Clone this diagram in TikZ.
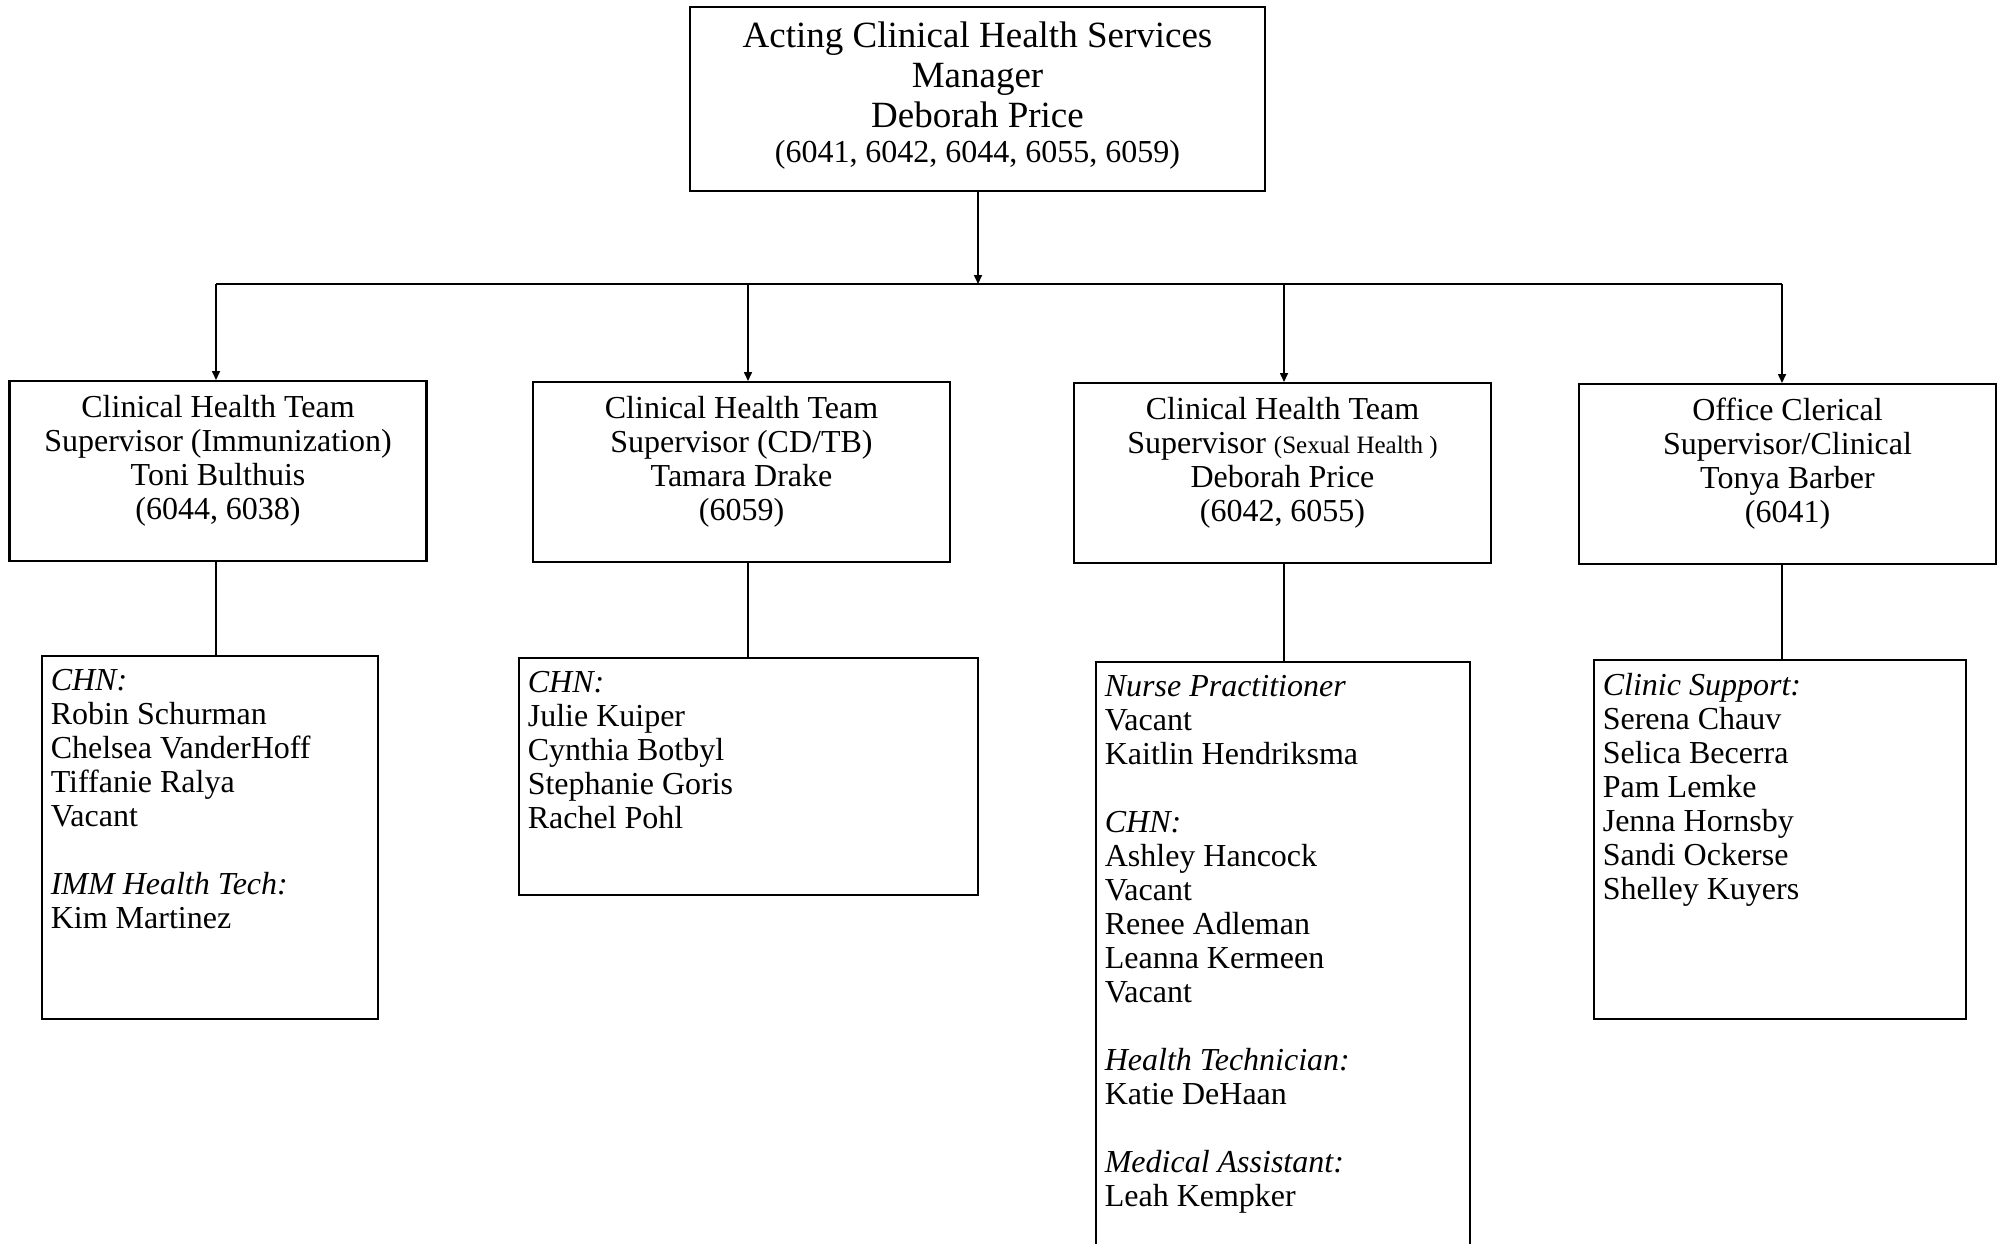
\documentclass[tikz,border=0pt]{standalone}
\usepackage{fontspec}
\setmainfont{Liberation Serif}
\usetikzlibrary{arrows.meta}
\newcommand{\headlines}[1]{\parbox[c][184pt][t]{575pt}{\centering\fontsize{37}{40}\selectfont\vspace*{15pt}#1\par}}
\newcommand{\suplines}[1]{\parbox[c][180pt][t]{417pt}{\centering\vspace*{14pt}#1\par}}
\newcommand{\stafflines}[3]{\parbox[c][#2][t]{#1}{\raggedright\leftskip=9pt\vspace*{13pt}#3\par}}
\begin{document}
\begin{tikzpicture}[x=1pt,y=-1pt,
  every node/.style={font=\fontsize{32}{34}\selectfont},
  box/.style={draw,line width=2.2pt,inner sep=0pt,anchor=north},
  staffbox/.style={draw,line width=1.6pt,inner sep=0pt,anchor=north west},
  link/.style={line width=1.6pt},
  arrow/.style={link,-{Triangle[length=9pt,width=8pt]}}]
\useasboundingbox (0,0) rectangle (2005,1243);

\node[box] (mgr) at (977.5,6) {\headlines{Acting Clinical Health Services\\ Manager\\ Deborah Price\par
  {\fontsize{32}{35}\selectfont (6041, 6042, 6044, 6055, 6059)\par}}};

\node[box] (sup1) at (218,380) {\suplines{Clinical Health Team\\ Supervisor (Immunization)\\ Toni Bulthuis\\ (6044, 6038)}};
\node[box] (sup2) at (741.5,381) {\suplines{Clinical Health Team\\ Supervisor (CD/TB)\\ Tamara Drake\\ (6059)}};
\node[box] (sup3) at (1282.5,382) {\suplines{Clinical Health Team\\ Supervisor {\fontsize{25}{34}\selectfont(Sexual Health )}\\ Deborah Price\\ (6042, 6055)}};
\node[box] (sup4) at (1787.5,383) {\suplines{Office Clerical\\ Supervisor/Clinical\\ Tonya Barber\\ (6041)}};

\node[staffbox] (staff1) at (41,655) {\stafflines{336pt}{363pt}{\textit{CHN:}\\ Robin Schurman\\ Chelsea VanderHoff\\ Tiffanie Ralya\\ Vacant\\[34pt]
  \textit{IMM Health Tech:}\\ Kim Martinez}};
\node[staffbox] (staff2) at (518,657) {\stafflines{459pt}{237pt}{\textit{CHN:}\\ Julie Kuiper\\ Cynthia Botbyl\\ Stephanie Goris\\ Rachel Pohl}};
\node[staffbox] (staff3) at (1095,661) {\stafflines{374pt}{640pt}{\textit{Nurse Practitioner}\\ Vacant\\ Kaitlin Hendriksma\\[34pt]
  \textit{CHN:}\\ Ashley Hancock\\ Vacant\\ Renee Adleman\\ Leanna Kermeen\\ Vacant\\[34pt]
  \textit{Health Technician:}\\ Katie DeHaan\\[34pt]
  \textit{Medical Assistant:}\\ Leah Kempker}};
\node[staffbox] (staff4) at (1593,659) {\stafflines{372pt}{359pt}{\textit{Clinic Support:}\\ Serena Chauv\\ Selica Becerra\\ Pam Lemke\\ Jenna Hornsby\\ Sandi Ockerse\\ Shelley Kuyers}};

\coordinate (bus) at (978,284);
\coordinate (b1) at (216,284);
\coordinate (b2) at (748,284);
\coordinate (b3) at (1284,284);
\coordinate (b4) at (1782,284);

\draw[arrow] (mgr.south -| bus) -- (bus);
\draw[link] (b1) -- (b4);
\draw[arrow] (b1) -- (b1 |- sup1.north);
\draw[arrow] (b2) -- (b2 |- sup2.north);
\draw[arrow] (b3) -- (b3 |- sup3.north);
\draw[arrow] (b4) -- (b4 |- sup4.north);

\draw[link] (sup1.south -| b1) -- (staff1.north -| b1);
\draw[link] (sup2.south -| b2) -- (staff2.north -| b2);
\draw[link] (sup3.south -| b3) -- (staff3.north -| b3);
\draw[link] (sup4.south -| b4) -- (staff4.north -| b4);
\end{tikzpicture}
\end{document}
